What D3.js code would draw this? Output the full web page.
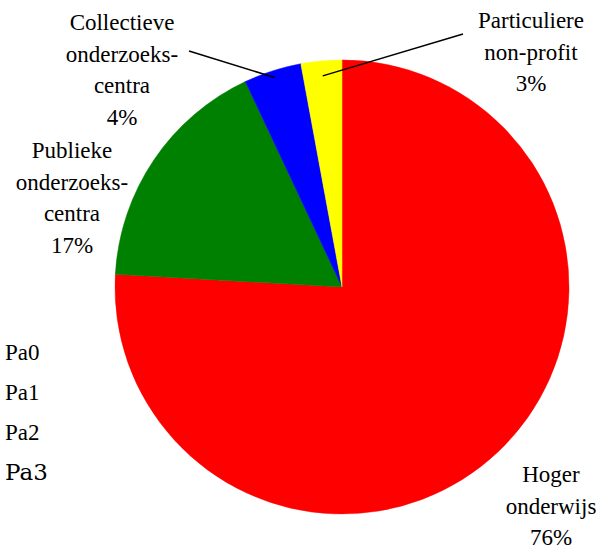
<!DOCTYPE html>
<html>
<head>
<meta charset="utf-8">
<script src="https://cdn.jsdelivr.net/npm/d3@7"></script>
</head>
<body style="margin:0">
<svg id="chart" width="603" height="550"></svg>
<script>
// ---- data ----
const categories = ["Hoger onderwijs", "Publieke onderzoekscentra", "Collectieve onderzoekscentra", "Particuliere non-profit"];
const values = [75.9, 17.1, 4.1, 2.9];
const percentLabels = ["76%", "17%", "4%", "3%"];
const labelLines = [
  ["Hoger", "onderwijs"],
  ["Publieke", "onderzoeks-", "centra"],
  ["Collectieve", "onderzoeks-", "centra"],
  ["Particuliere", "non-profit"]
];
const colors = ["#ff0000", "#008000", "#0000ff", "#ffff00"];

// ---- layout ----
const cx = 342, cy = 287, R = 227;
const labelLayout = [
  { x: 551, y: 482, leader: false },
  { x: 72, y: 158, leader: false },
  { x: 122, y: 30, leader: true, lx: 189, ly: 51, lr: 220 },
  { x: 531, y: 28, leader: true, lx: 463, ly: 34, lr: 212 }
];
const lineH = 31.5;

const svg = d3.select("#chart");

// diagnostic samples (temporary)
["Liberation Serif", "Tinos", "Times New Roman", "DejaVu Serif"].forEach((f, i) => {
  svg.append("text").attr("x", 5).attr("y", 360 + i * 40).attr("font-size", 23)
    .style("font-family", `'${f}'`).text("Pa" + i);
});

const g = svg.append("g").attr("transform", `translate(${cx},${cy})`);

const pie = d3.pie().sort(null).value(d => d)(values);
const arc = d3.arc().innerRadius(0).outerRadius(R);

g.selectAll("path.slice")
  .data(pie)
  .join("path")
  .attr("class", "slice")
  .attr("d", arc)
  .attr("fill", (d, i) => colors[i])
  .attr("stroke", (d, i) => colors[i])
  .attr("stroke-width", 0.5);

pie.forEach((d, i) => {
  const L = labelLayout[i];
  if (!L.leader) return;
  const a = (d.startAngle + d.endAngle) / 2;
  const sx = Math.sin(a) * L.lr, sy = -Math.cos(a) * L.lr;
  g.append("line")
    .attr("x1", sx).attr("y1", sy)
    .attr("x2", L.lx - cx).attr("y2", L.ly - cy)
    .attr("stroke", "#000").attr("stroke-width", 1.5);
});

pie.forEach((d, i) => {
  const L = labelLayout[i];
  const lines = labelLines[i].concat([percentLabels[i]]);
  lines.forEach((s, k) => {
    svg.append("text")
      .attr("x", L.x)
      .attr("y", L.y + k * lineH)
      .attr("text-anchor", "middle")
      .attr("font-size", 23)
      .style("font-family", "'Tinos'")
      .text(s);
  });
});
</script>
</body>
</html>
